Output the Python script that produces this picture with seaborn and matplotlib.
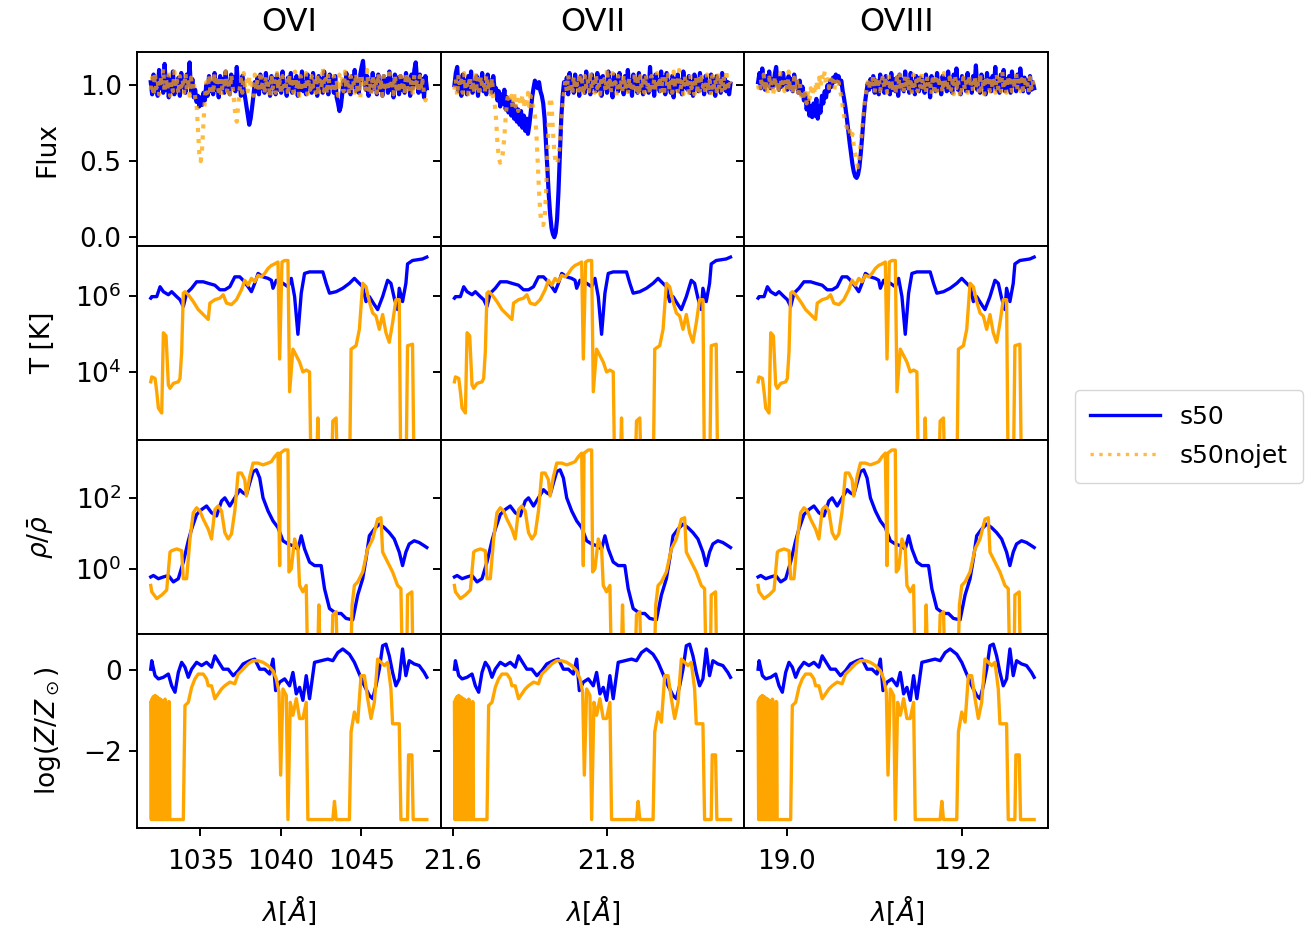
import numpy as np
import pandas as pd
import matplotlib
matplotlib.use("Agg")
import matplotlib.pyplot as plt
import seaborn as sns
from matplotlib.ticker import NullLocator, FixedLocator
from matplotlib.lines import Line2D

# ---------------- data ----------------
ions = ["OVI", "OVII", "OVIII"]
rest_wavelength = [1031.92, 21.602, 18.967]   # Angstrom
c_kms = 299792.458

series_names = ["s50", "s50nojet"]

# flux: sampled on an even velocity grid of 200 pixels (km/s)
flux_v = np.linspace(0, 4986, 200)

flux_OVI_s50 = [
    1.02, 0.94, 1.07, 0.96, 1.05, 0.93, 1.10, 0.98, 1.04, 0.95,
    1.14, 0.97, 1.06, 0.92, 1.03, 0.96, 1.09, 0.94, 1.01, 0.97,
    1.05, 0.93, 1.08, 0.99, 1.03, 0.95, 1.07, 1.00, 1.15, 0.96,
    1.04, 0.92, 0.97, 0.89, 0.93, 0.86, 0.92, 0.87, 0.95, 0.90,
    1.00, 0.93, 1.06, 0.96, 1.02, 0.94, 1.08, 0.97, 1.03, 0.92,
    1.06, 0.98, 1.04, 0.95, 1.09, 0.97, 1.02, 0.94, 1.07, 0.99,
    1.05, 0.96, 1.12, 0.98, 1.03, 0.93, 1.06, 0.97, 0.92, 0.86,
    0.80, 0.74, 0.78, 0.85, 0.93, 1.02, 0.96, 1.05, 0.94, 1.07,
    0.98, 1.03, 0.95, 1.08, 0.97, 1.02, 0.93, 1.06, 0.99, 1.04,
    0.94, 1.07, 0.97, 1.03, 0.95, 1.09, 0.98, 1.02, 0.93, 1.05,
    0.97, 1.08, 0.95, 1.03, 0.99, 1.06, 0.93, 1.04, 0.97, 1.09,
    0.96, 1.02, 0.94, 1.07, 0.98, 1.03, 0.95, 1.08, 0.97, 1.01,
    0.93, 1.06, 0.98, 1.04, 0.95, 1.09, 0.97, 1.02, 0.94, 1.07,
    0.99, 1.04, 0.95, 1.06, 0.92, 0.88, 0.83, 0.86, 0.94, 1.03,
    0.96, 1.08, 0.97, 1.04, 0.94, 1.06, 0.99, 1.10, 0.96, 1.03,
    0.95, 1.07, 1.12, 1.16, 1.04, 0.97, 1.06, 0.93, 1.03, 0.96,
    1.08, 0.98, 1.04, 0.94, 1.07, 0.97, 1.02, 0.93, 1.06, 0.99,
    1.04, 0.95, 1.09, 0.97, 1.03, 0.92, 1.07, 0.98, 1.05, 0.94,
    1.06, 0.97, 1.03, 0.95, 1.08, 0.99, 1.04, 0.93, 1.07, 0.98,
    1.10, 1.15, 1.03, 0.95, 1.07, 0.96, 1.04, 0.92, 1.06, 0.98]
flux_OVI_nojet = [
    0.97, 1.05, 0.93, 1.08, 0.98, 1.03, 0.94, 1.06, 0.99, 1.11,
    0.95, 1.04, 0.97, 1.07, 0.93, 1.02, 0.96, 1.09, 0.98, 1.03,
    0.94, 1.06, 0.99, 1.04, 0.95, 1.08, 0.97, 1.02, 0.93, 1.05,
    0.98, 1.03, 0.92, 0.88, 0.72, 0.55, 0.50, 0.58, 0.75, 0.90,
    1.02, 0.95, 1.07, 0.97, 1.04, 0.94, 1.08, 0.99, 1.03, 0.96,
    1.06, 0.93, 1.04, 0.98, 1.09, 0.96, 1.02, 0.94, 1.07, 0.99,
    0.90, 0.80, 0.76, 0.86, 0.97, 1.04, 0.95, 1.08, 0.98, 1.03,
    0.96, 1.06, 0.99, 1.02, 0.93, 1.07, 0.97, 1.04, 0.95, 1.09,
    0.99, 1.03, 0.94, 1.06, 0.97, 1.02, 0.92, 1.07, 0.98, 1.04,
    0.95, 1.08, 0.97, 1.03, 0.94, 1.06, 1.00, 0.96, 1.05, 0.93,
    1.07, 0.98, 1.02, 0.95, 1.09, 0.97, 1.04, 0.93, 1.06, 0.99,
    1.03, 0.96, 1.08, 0.94, 1.02, 0.97, 1.06, 0.99, 1.04, 0.95,
    1.07, 0.93, 1.03, 0.98, 1.12, 0.96, 1.04, 0.94, 1.08, 0.97,
    1.02, 0.95, 1.06, 0.98, 1.03, 0.93, 1.07, 0.99, 1.04, 0.96,
    1.09, 0.97, 1.02, 0.94, 1.06, 0.98, 1.03, 0.95, 1.08, 0.97,
    1.04, 0.92, 1.06, 0.99, 1.03, 0.96, 1.10, 0.97, 1.02, 0.94,
    1.07, 0.98, 1.04, 0.95, 1.08, 0.97, 1.02, 0.93, 1.06, 0.99,
    1.03, 0.96, 1.11, 0.97, 1.04, 0.94, 1.07, 0.98, 1.02, 0.95,
    1.06, 0.99, 1.03, 0.94, 1.08, 0.97, 1.04, 0.96, 1.02, 0.93,
    1.07, 0.98, 1.04, 0.95, 1.06, 0.97, 1.03, 0.94, 0.90, 0.96]
flux_OVII_s50 = [
    1.00, 1.08, 1.12, 0.96, 1.05, 0.93, 1.07, 0.98, 1.03, 0.94,
    1.06, 0.97, 1.09, 0.95, 1.03, 0.99, 1.06, 0.93, 1.04, 0.97,
    1.08, 0.96, 1.02, 0.94, 1.07, 0.99, 1.03, 0.95, 1.06, 0.97,
    0.98, 0.90, 0.96, 0.86, 0.94, 0.88, 0.97, 0.84, 0.92, 0.82,
    0.90, 0.80, 0.88, 0.78, 0.86, 0.76, 0.84, 0.74, 0.83, 0.72,
    0.80, 0.70, 0.78, 0.68, 0.74, 0.82, 0.92, 0.98, 1.03, 1.01,
    0.98, 1.02, 0.96, 0.93, 0.88, 0.78, 0.62, 0.45, 0.28, 0.15,
    0.06, 0.02, 0.00, 0.03, 0.12, 0.30, 0.55, 0.78, 0.93, 1.02,
    0.97, 1.05, 0.94, 1.08, 0.98, 1.03, 0.95, 1.07, 0.99, 1.04,
    0.93, 1.06, 0.97, 1.02, 0.95, 1.09, 0.98, 1.04, 0.94, 1.07,
    0.99, 1.03, 0.96, 1.08, 0.97, 1.05, 0.93, 1.06, 0.98, 1.02,
    0.95, 1.09, 0.97, 1.03, 0.92, 1.07, 0.99, 1.04, 0.96, 1.08,
    0.98, 1.02, 0.94, 1.06, 0.97, 1.10, 0.96, 1.03, 0.93, 1.07,
    0.99, 1.04, 0.95, 1.08, 0.97, 1.02, 0.94, 1.06, 0.98, 1.03,
    0.95, 1.12, 0.97, 1.04, 0.93, 1.07, 0.99, 1.03, 0.96, 1.09,
    0.97, 1.05, 0.94, 1.08, 0.98, 1.02, 0.95, 1.06, 0.92, 1.04,
    0.98, 1.07, 0.96, 1.03, 0.94, 1.09, 0.99, 1.04, 0.97, 1.06,
    0.95, 1.02, 0.93, 1.07, 0.98, 1.04, 0.96, 1.08, 0.97, 1.03,
    0.94, 1.06, 0.99, 1.02, 0.95, 1.07, 0.97, 1.04, 0.93, 1.06,
    0.98, 1.03, 0.95, 1.08, 0.97, 1.04, 0.96, 1.02, 0.94, 1.01]
flux_OVII_nojet = [
    0.97, 1.04, 0.93, 1.07, 0.99, 1.03, 0.95, 1.08, 0.98, 1.02,
    0.94, 1.06, 0.97, 1.03, 0.95, 1.09, 0.98, 1.04, 0.93, 1.06,
    0.99, 1.02, 0.95, 1.07, 0.97, 1.03, 0.94, 1.05, 0.92, 0.88,
    0.78, 0.62, 0.52, 0.49, 0.50, 0.56, 0.66, 0.80, 0.90, 0.95,
    0.88, 0.93, 0.85, 0.95, 0.86, 0.92, 0.83, 0.90, 0.87, 0.94,
    0.85, 0.91, 0.88, 0.95, 0.86, 0.93, 0.89, 0.84, 0.80, 0.70,
    0.50, 0.30, 0.15, 0.09, 0.08, 0.12, 0.28, 0.55, 0.80, 0.92,
    0.88, 0.70, 0.56, 0.49, 0.48, 0.52, 0.62, 0.75, 0.88, 0.95,
    1.03, 0.96, 1.07, 0.98, 1.02, 0.94, 1.06, 0.97, 1.04, 0.95,
    1.08, 0.97, 1.03, 0.93, 1.06, 0.99, 1.04, 0.96, 1.09, 0.97,
    1.02, 0.95, 1.07, 0.98, 1.03, 0.94, 1.06, 0.99, 1.04, 0.96,
    1.11, 0.97, 1.03, 0.95, 1.08, 0.98, 1.02, 0.93, 1.06, 0.99,
    1.04, 0.96, 1.07, 0.97, 1.03, 0.94, 1.05, 0.99, 1.02, 0.95,
    1.08, 0.97, 1.04, 0.93, 1.06, 0.98, 1.03, 0.95, 1.07, 0.99,
    1.02, 0.94, 1.06, 0.97, 1.04, 0.96, 1.08, 0.98, 1.03, 0.95,
    1.06, 0.93, 1.04, 0.99, 1.07, 0.97, 1.02, 0.95, 1.09, 0.98,
    1.03, 0.96, 1.10, 0.97, 1.04, 0.94, 1.06, 0.99, 1.02, 0.95,
    1.07, 0.98, 1.03, 0.94, 1.06, 0.97, 1.04, 0.96, 1.08, 0.99,
    1.02, 0.95, 1.07, 0.98, 1.03, 0.93, 1.06, 0.99, 1.04, 0.96,
    1.09, 0.97, 1.03, 0.95, 1.06, 0.98, 1.10, 0.96, 1.04, 1.01]
flux_OVIII_s50 = [
    1.02, 1.08, 0.98, 1.11, 1.03, 0.97, 1.06, 1.00, 1.09, 0.98,
    1.04, 0.99, 1.07, 1.12, 1.02, 0.97, 1.05, 0.99, 1.08, 1.01,
    1.03, 0.97, 1.06, 0.98, 1.04, 0.96, 1.07, 0.99, 1.02, 0.95,
    1.03, 0.94, 0.99, 0.90, 0.94, 0.84, 0.90, 0.80, 0.86, 0.79,
    0.88, 0.80, 0.91, 0.78, 0.86, 0.82, 0.93, 0.88, 0.96, 0.92,
    1.00, 0.96, 1.03, 0.99, 1.05, 1.02, 1.07, 1.03, 1.06, 1.01,
    1.03, 0.96, 0.91, 0.85, 0.78, 0.70, 0.62, 0.55, 0.48, 0.43,
    0.40, 0.39, 0.41, 0.46, 0.55, 0.66, 0.78, 0.88, 0.95, 1.01,
    0.97, 1.04, 0.99, 1.06, 0.95, 1.03, 1.00, 0.94, 1.07, 0.98,
    1.03, 0.95, 1.06, 0.99, 1.02, 0.94, 1.08, 0.97, 1.04, 0.96,
    1.05, 0.93, 1.07, 0.99, 1.03, 0.96, 1.09, 0.98, 1.04, 0.95,
    1.08, 0.97, 1.02, 0.94, 1.06, 1.00, 0.96, 1.05, 0.98, 1.03,
    0.95, 1.07, 0.99, 1.04, 0.92, 1.06, 0.98, 1.03, 0.96, 1.08,
    0.97, 1.02, 0.94, 1.06, 0.99, 1.04, 0.96, 1.09, 0.97, 1.03,
    0.95, 1.07, 1.00, 1.11, 0.97, 1.03, 0.94, 1.06, 0.99, 1.04,
    0.96, 1.08, 0.98, 1.03, 0.95, 1.06, 1.00, 1.13, 0.97, 1.04,
    0.95, 1.07, 0.99, 1.03, 0.94, 1.08, 0.98, 1.04, 0.96, 1.06,
    1.00, 1.12, 0.97, 1.03, 0.95, 1.07, 0.99, 1.10, 0.96, 1.04,
    0.98, 1.06, 0.95, 1.09, 1.00, 1.03, 0.96, 1.07, 0.98, 1.11,
    1.02, 0.96, 1.05, 0.99, 1.03, 0.95, 1.06, 0.97, 1.02, 0.98]
flux_OVIII_nojet = [
    1.00, 0.95, 1.04, 0.98, 1.07, 0.96, 1.02, 0.94, 1.05, 0.99,
    1.03, 0.93, 1.06, 0.97, 1.02, 0.95, 1.08, 0.98, 1.03, 0.96,
    1.04, 0.97, 1.09, 0.96, 1.02, 0.94, 1.05, 0.98, 1.03, 0.95,
    1.01, 0.93, 0.97, 0.90, 0.95, 0.88, 0.96, 0.91, 0.98, 0.93,
    1.00, 0.94, 1.03, 0.96, 1.05, 0.99, 1.07, 1.03, 1.09, 1.00,
    1.04, 0.98, 1.05, 1.00, 1.03, 0.97, 1.04, 0.99, 1.02, 0.96,
    0.93, 0.86, 0.80, 0.75, 0.72, 0.74, 0.70, 0.65, 0.68, 0.60,
    0.55, 0.50, 0.46, 0.52, 0.62, 0.72, 0.82, 0.90, 0.96, 1.02,
    0.97, 1.04, 0.99, 1.06, 0.95, 1.03, 0.98, 1.05, 0.96, 1.02,
    1.06, 0.98, 1.03, 0.95, 1.07, 0.99, 1.04, 0.96, 1.02, 0.94,
    1.05, 0.97, 1.08, 0.99, 1.03, 0.95, 1.06, 0.98, 1.04, 0.96,
    1.02, 0.94, 1.07, 0.98, 1.03, 0.96, 1.05, 0.99, 1.08, 0.97,
    1.03, 0.95, 1.06, 0.99, 1.02, 0.94, 1.07, 0.97, 1.04, 0.96,
    1.06, 0.98, 1.03, 0.95, 1.08, 0.99, 1.02, 0.96, 1.05, 0.97,
    1.03, 0.94, 1.06, 0.98, 1.04, 0.96, 0.92, 0.98, 1.05, 0.97,
    1.02, 0.95, 1.07, 0.99, 1.03, 0.96, 1.06, 0.98, 1.04, 0.95,
    1.08, 0.97, 1.02, 0.94, 1.06, 0.99, 1.03, 0.96, 1.05, 0.98,
    1.03, 0.95, 1.07, 0.98, 1.04, 0.96, 1.09, 0.97, 1.02, 0.95,
    1.06, 0.99, 1.03, 0.96, 1.05, 0.98, 1.08, 0.97, 1.03, 0.96,
    1.04, 0.97, 1.06, 0.99, 1.02, 0.95, 1.05, 0.98, 1.03, 0.97]

flux_s50 = [flux_OVI_s50, flux_OVII_s50, flux_OVIII_s50]
flux_nojet = [flux_OVI_nojet, flux_OVII_nojet, flux_OVIII_nojet]

# temperature along the sightline: velocity (km/s), log10 T [K]
T_s50_v = [0, 18, 108, 168, 228, 318, 378, 468, 528, 588, 648, 738, 828, 948, 1038,
           1158, 1248, 1338, 1428, 1518, 1608, 1668, 1758, 1818, 1878, 1938, 2028,
           2118, 2178, 2208, 2268, 2388, 2478, 2538, 2598, 2658, 2718, 2778, 2868,
           3108, 3168, 3228, 3348, 3468, 3588, 3678, 3738, 3828, 3888, 3948, 4038,
           4098, 4188, 4278, 4338, 4398, 4458, 4488, 4548, 4608, 4638, 4728, 4908, 4986]
T_s50_log = [5.94, 5.98, 5.98, 6.24, 6.11, 6.03, 6.11, 5.98, 5.90, 5.72, 6.07, 6.20,
             6.37, 6.37, 6.33, 6.28, 6.16, 6.16, 6.24, 6.50, 6.50, 6.41, 6.24, 6.11,
             6.33, 6.59, 6.50, 6.46, 6.41, 6.20, 6.41, 6.33, 6.24, 6.46, 5.98, 4.99,
             6.07, 6.59, 6.63, 6.63, 6.33, 6.07, 6.11, 6.20, 6.33, 6.46, 6.37, 6.24,
             5.85, 5.98, 5.77, 5.64, 5.98, 6.41, 6.33, 5.94, 5.64, 6.20, 5.85, 6.33,
             6.84, 6.93, 6.97, 7.02]
T_nojet_v = [0, 18, 78, 108, 138, 198, 228, 276, 318, 348, 408, 498, 528, 558, 588,
             618, 678, 768, 858, 948, 1038, 1068, 1158, 1248, 1308, 1368, 1458, 1548,
             1638, 1698, 1758, 1818, 1878, 1938, 1998, 2058, 2118, 2178, 2238, 2298,
             2328, 2370, 2418, 2478, 2508, 2568, 2628, 2688, 2748, 2808, 2868, 2898,
             2988, 3018, 3048, 3258, 3288, 3348, 3378, 3588, 3618, 3708, 3768, 3828,
             3888, 3948, 4008, 4068, 4128, 4188, 4248, 4308, 4368, 4428, 4488, 4518,
             4608, 4638, 4728, 4758, 4986]
T_nojet_log = [3.74, 3.87, 3.83, 3.48, 3.05, 2.92, 5.03, 4.95, 3.66, 3.57, 3.70, 3.74,
               3.83, 4.52, 6.07, 6.11, 6.03, 5.85, 5.64, 5.51, 5.38, 5.81, 5.90, 5.94,
               6.03, 5.81, 5.77, 5.90, 6.16, 6.41, 6.28, 6.46, 6.37, 6.54, 6.50, 6.59,
               6.72, 6.80, 6.84, 6.89, 4.34, 6.89, 6.93, 6.93, 3.48, 4.60, 4.43, 4.26,
               4.00, 4.05, 4.00, 1.00, 1.00, 2.79, 1.00, 1.00, 2.71, 2.79, 1.00, 1.00,
               4.60, 4.69, 5.12, 6.33, 6.24, 5.85, 5.55, 5.47, 5.12, 5.51, 5.03, 4.78,
               5.29, 5.90, 5.90, 1.00, 1.00, 4.69, 4.73, 1.00, 1.00]

# overdensity: velocity (km/s), log10 rho/rho_bar
rho_s50_v = [0, 48, 138, 228, 318, 408, 498, 588, 678, 738, 828, 918, 1008, 1098, 1188,
             1278, 1338, 1428, 1518, 1608, 1668, 1728, 1788, 1848, 1908, 1968, 2028,
             2118, 2208, 2298, 2388, 2478, 2568, 2658, 2718, 2778, 2868, 2958, 3078,
             3138, 3228, 3348, 3438, 3528, 3648, 3738, 3828, 3888, 3948, 4038, 4128,
             4218, 4308, 4398, 4488, 4548, 4608, 4668, 4758, 4848, 4938, 4986]
rho_s50_log = [-0.23, -0.19, -0.28, -0.23, -0.19, -0.37, -0.28, 0.19, 0.79, 1.12, 1.53,
               1.67, 1.77, 1.58, 1.49, 1.91, 2.00, 1.77, 2.00, 2.23, 2.14, 2.09, 2.42,
               2.74, 2.79, 2.56, 2.00, 1.63, 1.35, 1.16, 0.79, 0.70, 0.65, 0.56, 0.93,
               0.56, 0.19, 0.09, 0.09, -0.56, -1.12, -1.26, -1.26, -1.40, -1.44, -0.74,
               -0.28, 0.28, 0.93, 1.12, 1.26, 1.16, 1.02, 0.84, 0.47, 0.09, 0.47, 0.70,
               0.79, 0.74, 0.65, 0.60]
rho_nojet_v = [0, 18, 108, 198, 288, 348, 378, 468, 558, 588, 648, 708, 768, 828, 888,
               948, 1038, 1098, 1158, 1218, 1278, 1338, 1398, 1458, 1518, 1578, 1638,
               1698, 1728, 1788, 1848, 1938, 2028, 2118, 2178, 2238, 2298, 2328, 2340,
               2418, 2478, 2496, 2538, 2598, 2658, 2688, 2748, 2808, 2838, 3006, 3036,
               3066, 3258, 3288, 3348, 3378, 3606, 3636, 3678, 3738, 3828, 3918, 4008,
               4098, 4158, 4188, 4278, 4368, 4458, 4518, 4548, 4620, 4638, 4716, 4740,
               4986]
rho_nojet_log = [-0.47, -0.65, -0.84, -0.74, -0.60, 0.47, 0.51, 0.56, 0.51, -0.28,
                 -0.28, 0.84, 1.58, 1.72, 1.63, 1.40, 1.12, 0.84, 1.67, 1.77, 1.63,
                 1.02, 0.84, 0.98, 1.63, 2.70, 2.70, 2.51, 2.05, 2.60, 2.98, 2.98, 2.93,
                 2.98, 3.02, 3.16, 3.26, 0.09, 3.26, 3.35, 3.35, -0.09, 0.00, 0.84, 0.56,
                 -0.47, -0.65, -0.47, -3.0, -3.0, -1.02, -3.0, -3.0, -1.30, -1.21, -3.0,
                 -3.0, -1.02, -0.47, -0.37, -0.09, 0.56, 0.84, 1.40, 1.44, 0.47, 0.19,
                 -0.09, -0.47, -0.56, -3.0, -3.0, -0.74, -0.65, -3.0, -3.0]

# metallicity: velocity (km/s), log10 Z/Zsun
Z_s50_v = [0, 18, 78, 138, 228, 318, 378, 438, 498, 558, 618, 678, 738, 828, 918, 1008,
           1098, 1158, 1248, 1308, 1398, 1488, 1578, 1668, 1788, 1878, 1968, 2058, 2148,
           2208, 2256, 2328, 2418, 2508, 2568, 2628, 2688, 2748, 2808, 2868, 2958, 3078,
           3198, 3288, 3378, 3468, 3588, 3678, 3768, 3858, 3948, 4008, 4068, 4128, 4188,
           4248, 4308, 4368, 4428, 4488, 4548, 4608, 4668, 4758, 4848, 4938, 4986]
Z_s50_log = [0.02, 0.23, -0.14, -0.22, -0.18, -0.10, -0.39, -0.55, -0.06, 0.19, 0.07,
             -0.18, 0.02, 0.19, 0.11, 0.19, 0.07, 0.35, 0.15, 0.02, 0.02, -0.14, -0.02,
             0.15, 0.23, 0.27, 0.02, 0.02, -0.10, 0.27, -0.51, -0.30, -0.22, -0.39,
             -0.06, -0.59, -0.43, -0.75, -0.14, -0.71, 0.19, 0.23, 0.27, 0.23, 0.43,
             0.52, 0.39, 0.19, -0.10, -0.39, -0.63, -0.71, -0.39, 0.02, 0.60, 0.64,
             0.35, -0.06, -0.39, -0.22, 0.52, -0.14, 0.23, 0.15, 0.11, -0.06, -0.18]
Z_nojet_v = [0, 10, 20, 30, 40, 50, 60, 70, 80, 90, 100, 110, 120, 130, 140, 150, 160,
             170, 180, 190, 200, 210, 250, 258, 266, 274, 320, 328, 336, 344, 588, 618,
             678, 738, 798, 858, 948, 1008, 1038, 1098, 1158, 1218, 1278, 1338, 1428,
             1518, 1578, 1668, 1758, 1848, 1938, 2028, 2118, 2208, 2268, 2316, 2346,
             2388, 2448, 2478, 2520, 2568, 2628, 2688, 2748, 2808, 2838, 3288, 3318,
             3348, 3588, 3618, 3678, 3738, 3798, 3858, 3918, 3978, 4038, 4098, 4158,
             4218, 4278, 4338, 4368, 4488, 4518, 4638, 4656, 4716, 4740, 4986]
Z_nojet_log = [-0.80, -3.70, -0.72, -3.70, -0.67, -3.70, -0.65, -3.70, -0.63, -3.70,
               -0.66, -3.70, -0.67, -3.70, -0.70, -3.70, -0.71, -3.70, -0.73, -3.70,
               -0.75, -3.70, -3.70, -0.72, -0.75, -3.70, -3.70, -0.78, -0.80, -3.70,
               -3.70, -0.88, -0.80, -0.43, -0.22, -0.10,
               -0.10, -0.22, -0.39, -0.39, -0.71, -0.59, -0.47, -0.39, -0.30, -0.34,
               -0.10, 0.02, 0.15, 0.23, 0.23, 0.19, 0.11, -0.02, -0.22, -0.55, -2.60,
               -0.47, -0.63, -3.70, -0.80, -1.12, -0.71, -1.20, -1.20, -0.80, -3.70,
               -3.70, -3.25, -3.70, -3.70, -1.53, -1.04, -1.29, -0.14, -0.14, -0.71,
               -1.20, -0.80, 0.27, 0.19, 0.11, 0.19, -0.47, -1.33, -1.33, -3.70, -3.70,
               -2.10, -2.10, -3.70, -3.70]

row_labels = ["Flux", "T [K]", r"$\rho/\bar{\rho}$", r"log$(Z/Z_\odot)$"]
xlabel = r"$\lambda[\AA]$"

# ---------------- plot ----------------
FS = 19
plt.rcParams["font.size"] = FS
plt.rcParams["axes.linewidth"] = 1.4
plt.rcParams["xtick.major.width"] = 1.4
plt.rcParams["ytick.major.width"] = 1.4
plt.rcParams["xtick.major.size"] = 6
plt.rcParams["ytick.major.size"] = 6

fig, axes = plt.subplots(4, 3, figsize=(13.08, 9.31), dpi=100,
                         sharex="col", sharey="row")
fig.subplots_adjust(left=0.1047, right=0.8012, top=0.9441, bottom=0.1106,
                    hspace=0, wspace=0)

for r in (1, 2):
    for ax in axes[r]:
        ax.set_yscale("log")

def lam(v, j):
    return rest_wavelength[j] * (1 + np.asarray(v, float) / c_kms)

BLUE = "blue"
ORANGE = "orange"
LW = 2.4

for j, ion in enumerate(ions):
    # flux
    ax = axes[0, j]
    sns.lineplot(x=lam(flux_v, j), y=flux_s50[j], ax=ax, color=BLUE, lw=3.0,
                 estimator=None, legend=False)
    sns.lineplot(x=lam(flux_v, j), y=flux_nojet[j], ax=ax, color=ORANGE, lw=3.0,
                 linestyle=":", alpha=0.75, estimator=None, legend=False)
    ax.set_title(ion, fontsize=23, pad=15)

    # temperature
    ax = axes[1, j]
    sns.lineplot(x=lam(T_s50_v, j), y=10 ** np.array(T_s50_log), ax=ax, color=BLUE,
                 lw=LW, estimator=None, legend=False)
    sns.lineplot(x=lam(T_nojet_v, j), y=10 ** np.array(T_nojet_log), ax=ax,
                 color=ORANGE, lw=LW, estimator=None, legend=False)

    # density
    ax = axes[2, j]
    sns.lineplot(x=lam(rho_s50_v, j), y=10 ** np.array(rho_s50_log), ax=ax, color=BLUE,
                 lw=LW, estimator=None, legend=False)
    sns.lineplot(x=lam(rho_nojet_v, j), y=10 ** np.array(rho_nojet_log), ax=ax,
                 color=ORANGE, lw=LW, estimator=None, legend=False)

    # metallicity
    ax = axes[3, j]
    sns.lineplot(x=lam(Z_s50_v, j), y=Z_s50_log, ax=ax, color=BLUE, lw=LW,
                 estimator=None, legend=False)
    sns.lineplot(x=lam(Z_nojet_v, j), y=Z_nojet_log, ax=ax, color=ORANGE, lw=LW,
                 estimator=None, legend=False)
    ax.set_xlabel(xlabel, fontsize=FS, labelpad=14)

for r in range(4):
    for j in range(3):
        axes[r, j].set_ylabel("")
        if r < 3:
            axes[r, j].set_xlabel("")
    axes[r, 0].set_ylabel(row_labels[r], fontsize=FS, labelpad=14)

axes[0, 0].set_yticks([0.0, 0.5, 1.0])
axes[1, 0].set_ylim(10 ** 2.21, 10 ** 7.31)
axes[1, 0].yaxis.set_major_locator(FixedLocator([1e4, 1e6]))
axes[2, 0].set_ylim(10 ** -1.84, 10 ** 3.63)
axes[2, 0].yaxis.set_major_locator(FixedLocator([1e0, 1e2]))
axes[3, 0].set_ylim(-3.91, 0.89)
axes[3, 0].set_yticks([-2, 0])
for r in (1, 2):
    for ax in axes[r]:
        ax.yaxis.set_minor_locator(NullLocator())

axes[3, 0].set_xticks([1035, 1040, 1045])
axes[3, 1].set_xticks([21.6, 21.8])
axes[3, 2].set_xticks([19.0, 19.2])

for ax in axes.flat:
    ax.tick_params(labelsize=FS, pad=5)
for ax in axes[3]:
    ax.tick_params(axis="x", pad=9)

legend_handles = [
    Line2D([], [], color=BLUE, lw=2.4),
    Line2D([], [], color=ORANGE, lw=2.4, linestyle=":", alpha=0.75),
]
fig.legend(legend_handles, series_names, loc="center left",
           bbox_to_anchor=(0.812, 0.531), fontsize=18, handlelength=2.8,
           borderpad=0.6, labelspacing=0.6)

fig.savefig("out.png", dpi=100)
